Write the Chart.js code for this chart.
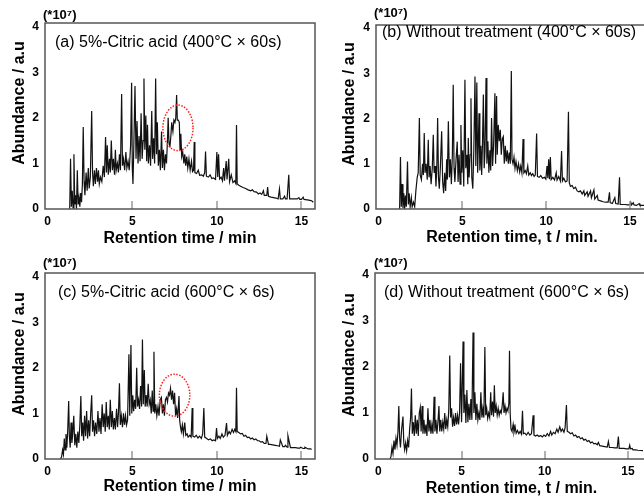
<!DOCTYPE html>
<html><head><meta charset="utf-8">
<script src="https://cdn.jsdelivr.net/npm/chart.js@4.4.0/dist/chart.umd.min.js"></script>
<style>
html,body{margin:0;padding:0;background:#fff;overflow:hidden;width:644px;height:504px;position:relative;}
.p{position:absolute;}
canvas{display:block;}
</style></head><body>
<div class="p" style="left:0;top:0"><canvas id="ca" width="322" height="250"></canvas></div>
<div class="p" style="left:322px;top:0"><canvas id="cb" width="330" height="250"></canvas></div>
<div class="p" style="left:0;top:250px"><canvas id="cc" width="322" height="254"></canvas></div>
<div class="p" style="left:322px;top:250px"><canvas id="cd" width="330" height="254"></canvas></div>
<script>
// ---- tick labels ----
const xTicks = [0, 5, 10, 15];
const yTicks = [0, 1, 2, 3, 4];

// ---- (a) 5%-Citric acid 400C x 60s ----
const tA = [1.30,1.35,1.40,1.45,1.50,1.55,1.60,1.65,1.70,1.75,1.80,1.85,1.90,1.95,2.00,2.05,2.10,2.15,2.20,2.27,2.33,2.40,2.45,2.52,2.60,2.65,2.70,2.76,2.82,2.88,2.95,3.00,3.05,3.12,3.20,3.28,3.35,3.42,3.47,3.52,3.58,3.65,3.70,3.76,3.82,3.88,3.95,4.00,4.05,4.12,4.18,4.24,4.30,4.37,4.42,4.48,4.55,4.62,4.68,4.75,4.82,4.90,4.96,5.00,5.04,5.08,5.16,5.22,5.28,5.34,5.40,5.46,5.52,5.58,5.64,5.69,5.74,5.80,5.85,5.90,5.95,6.02,6.08,6.15,6.20,6.26,6.32,6.38,6.43,6.48,6.54,6.60,6.66,6.73,6.78,6.84,6.90,6.96,7.02,7.08,7.12,7.17,7.22,7.28,7.33,7.40,7.46,7.52,7.57,7.62,7.66,7.72,7.78,7.82,7.87,7.92,7.98,8.05,8.10,8.16,8.22,8.28,8.35,8.42,8.50,8.56,8.62,8.66,8.70,8.80,8.90,8.98,9.10,9.20,9.28,9.33,9.38,9.50,9.60,9.70,9.80,9.92,10.00,10.05,10.10,10.16,10.25,10.33,10.40,10.45,10.55,10.60,10.70,10.75,10.85,10.95,11.05,11.12,11.16,11.20,11.30,11.40,11.55,11.70,11.85,12.00,12.10,12.20,12.35,12.45,12.55,12.65,12.75,12.80,12.95,13.00,13.05,13.20,13.35,13.50,13.62,13.70,13.75,13.90,14.00,14.05,14.15,14.25,14.30,14.45,14.60,14.75,14.85,14.90,15.00,15.10,15.15,15.35,15.50,15.60,15.70];
const vA = [0.00,1.10,0.05,0.40,0.02,1.20,0.10,0.30,0.00,0.85,0.10,0.25,0.05,0.35,0.15,0.55,1.80,0.60,0.30,0.80,0.40,0.90,0.45,0.70,2.15,0.80,0.50,0.85,0.55,0.90,0.60,0.85,0.55,0.70,0.60,0.95,0.70,1.58,0.80,1.40,0.75,1.10,0.80,1.50,0.85,1.10,0.75,1.30,0.85,1.00,0.80,1.20,0.85,2.52,0.95,1.10,0.85,1.25,0.90,1.05,0.85,1.40,2.77,0.90,0.55,1.20,2.70,1.10,1.93,1.00,1.60,1.05,2.10,1.10,1.50,2.86,1.30,2.05,1.05,1.85,1.00,1.40,0.95,2.15,1.10,1.55,1.00,2.86,1.20,1.90,0.95,1.30,0.85,1.70,0.90,1.30,0.85,1.20,1.00,1.50,2.00,1.45,1.35,1.60,1.90,1.70,1.95,1.90,2.00,2.50,1.95,1.95,1.90,1.30,1.65,1.15,1.25,1.00,1.20,0.95,1.15,0.90,1.10,0.85,1.05,0.82,0.85,1.47,0.80,0.78,0.85,0.74,0.75,0.72,0.80,1.26,0.72,0.70,0.75,0.67,0.68,0.65,1.25,0.70,1.20,0.66,0.70,0.62,0.90,0.62,1.05,0.65,1.10,0.60,0.75,0.58,0.62,0.56,1.84,0.55,0.52,0.50,0.47,0.45,0.42,0.40,0.42,0.38,0.37,0.33,0.35,0.32,0.40,0.30,0.30,0.48,0.28,0.26,0.25,0.24,0.22,0.44,0.22,0.22,0.28,0.22,0.22,0.75,0.22,0.22,0.22,0.22,0.25,0.21,0.21,0.26,0.21,0.20,0.19,0.18,0.15];

// ---- (b) Without treatment 400C x 60s ----
const tB = [1.25,1.30,1.35,1.40,1.45,1.50,1.55,1.60,1.65,1.72,1.77,1.82,1.88,1.95,2.00,2.08,2.15,2.22,2.30,2.36,2.43,2.48,2.55,2.62,2.67,2.72,2.77,2.83,2.90,2.96,3.01,3.07,3.13,3.20,3.26,3.31,3.37,3.42,3.47,3.52,3.57,3.62,3.68,3.76,3.82,3.88,3.94,4.00,4.06,4.10,4.16,4.22,4.28,4.34,4.40,4.45,4.50,4.55,4.62,4.69,4.74,4.80,4.86,4.91,4.96,5.02,5.08,5.15,5.20,5.27,5.32,5.35,5.40,5.46,5.51,5.56,5.62,5.68,5.75,5.80,5.86,5.91,5.99,6.04,6.10,6.15,6.20,6.25,6.30,6.35,6.41,6.46,6.52,6.58,6.64,6.69,6.74,6.80,6.86,6.94,6.98,7.04,7.08,7.14,7.20,7.26,7.32,7.38,7.44,7.50,7.56,7.62,7.68,7.74,7.80,7.86,7.92,7.96,8.02,8.08,8.14,8.20,8.28,8.35,8.42,8.48,8.55,8.62,8.67,8.75,8.82,8.90,8.96,9.05,9.12,9.20,9.28,9.35,9.43,9.48,9.58,9.68,9.78,9.90,9.98,10.05,10.10,10.15,10.20,10.25,10.30,10.40,10.50,10.60,10.65,10.75,10.85,10.92,10.97,11.05,11.15,11.25,11.33,11.38,11.45,11.55,11.65,11.75,11.85,11.95,12.05,12.15,12.25,12.30,12.45,12.50,12.65,12.70,12.85,12.90,13.05,13.10,13.25,13.40,13.55,13.70,13.78,13.82,13.95,14.10,14.15,14.30,14.38,14.42,14.55,14.70,14.85,15.00,15.05,15.10,15.20,15.25,15.40,15.55,15.60,15.90];
const vB = [0.00,1.15,0.05,0.55,0.02,0.35,0.00,0.30,0.05,1.05,0.10,0.35,0.05,0.25,0.05,0.15,0.05,0.40,0.70,0.80,2.01,0.75,0.65,1.00,0.75,1.68,0.80,1.00,0.65,1.53,0.70,0.95,0.55,0.90,1.64,0.80,0.95,0.50,0.90,2.01,0.70,0.45,0.90,1.72,0.60,0.35,0.80,0.40,1.10,0.65,1.94,0.70,1.10,0.55,1.20,2.75,0.90,0.60,1.10,1.49,0.60,1.20,0.55,1.86,0.80,1.30,0.50,2.86,0.90,1.20,0.55,1.57,0.70,1.20,2.45,0.70,0.45,1.30,2.93,0.95,2.80,0.80,2.12,0.85,1.40,0.75,1.50,2.53,0.90,1.30,2.90,1.00,1.50,0.80,1.30,0.85,2.01,0.95,1.40,2.56,1.00,2.50,1.20,1.86,1.50,1.75,1.20,1.55,1.60,1.00,1.40,1.05,1.30,1.00,1.25,1.00,3.05,1.10,1.00,1.15,0.90,1.05,0.85,1.00,0.82,0.95,0.80,1.55,0.80,0.85,0.78,0.95,0.75,0.80,0.74,0.78,0.72,0.75,1.67,0.72,0.70,0.74,0.68,0.70,0.66,0.95,0.68,1.10,0.66,1.15,0.65,0.70,0.64,0.80,0.64,0.72,0.62,1.28,0.62,0.68,0.60,0.62,2.15,0.58,0.50,0.52,0.45,0.48,0.40,0.38,0.40,0.33,0.40,0.30,0.38,0.28,0.40,0.25,0.42,0.22,0.30,0.20,0.18,0.16,0.15,0.15,0.37,0.14,0.12,0.25,0.12,0.11,0.70,0.10,0.10,0.10,0.09,0.09,0.15,0.09,0.14,0.09,0.08,0.12,0.08,0.08];

// ---- (c) 5%-Citric acid 600C x 6s ----
const tC = [0.75,0.82,0.88,0.93,0.98,1.03,1.08,1.13,1.18,1.24,1.28,1.33,1.38,1.43,1.48,1.54,1.60,1.66,1.72,1.78,1.84,1.90,1.96,2.01,2.07,2.12,2.18,2.24,2.30,2.36,2.42,2.48,2.54,2.60,2.65,2.71,2.77,2.83,2.90,2.97,3.03,3.09,3.15,3.22,3.28,3.34,3.40,3.46,3.52,3.58,3.64,3.70,3.76,3.82,3.88,3.94,4.00,4.07,4.13,4.18,4.24,4.29,4.35,4.42,4.48,4.54,4.60,4.66,4.72,4.80,4.85,4.92,4.97,5.03,5.08,5.14,5.20,5.26,5.31,5.37,5.43,5.49,5.55,5.60,5.65,5.71,5.76,5.82,5.88,5.94,6.00,6.06,6.12,6.18,6.23,6.28,6.33,6.39,6.45,6.52,6.58,6.65,6.72,6.78,6.84,6.90,6.96,7.02,7.08,7.14,7.20,7.26,7.32,7.38,7.44,7.50,7.56,7.62,7.68,7.76,7.80,7.85,7.90,7.96,8.02,8.10,8.16,8.24,8.30,8.40,8.48,8.54,8.58,8.68,8.78,8.88,8.98,9.08,9.16,9.23,9.28,9.40,9.50,9.62,9.72,9.82,9.92,9.98,10.03,10.12,10.20,10.30,10.38,10.48,10.57,10.62,10.72,10.80,10.90,10.98,11.06,11.12,11.16,11.20,11.30,11.40,11.50,11.60,11.70,11.80,11.90,12.00,12.10,12.20,12.30,12.40,12.50,12.60,12.70,12.80,12.90,12.95,13.05,13.15,13.30,13.45,13.60,13.70,13.75,13.90,14.00,14.05,14.15,14.20,14.35,14.50,14.65,14.80,14.90,14.95,15.10,15.15,15.20,15.40,15.55,15.60];
const vC = [0.00,0.05,0.20,0.10,0.45,0.20,0.55,0.25,0.60,1.27,0.50,0.25,0.80,0.35,0.55,0.95,0.30,0.55,0.25,0.60,0.35,0.75,1.38,0.50,0.80,0.40,0.95,0.50,1.05,0.45,0.85,0.50,1.00,1.40,0.60,0.85,0.50,0.80,0.55,1.05,0.60,0.90,0.55,1.20,0.70,1.00,0.60,1.25,0.70,0.95,0.65,1.30,0.70,1.05,0.65,0.90,0.65,1.10,0.70,1.00,1.66,0.75,0.95,0.70,1.00,0.75,0.95,0.75,0.85,2.30,0.95,2.50,1.00,1.40,1.05,1.30,1.10,2.00,1.15,1.30,1.10,1.60,1.15,2.62,1.20,1.95,1.15,1.40,1.15,1.65,1.20,1.30,1.00,1.50,1.05,2.35,1.00,1.20,0.95,1.15,0.95,1.30,1.35,1.00,1.20,0.95,1.30,1.35,1.25,1.45,1.40,1.55,1.30,1.50,1.20,1.45,0.95,1.10,0.90,1.38,0.85,0.70,0.60,0.75,0.55,0.80,0.52,0.55,0.48,0.52,0.48,1.12,0.50,0.48,0.52,0.46,0.50,0.45,0.55,1.12,0.48,0.45,0.42,0.44,0.40,0.42,0.40,0.68,0.45,0.50,0.45,0.55,0.48,0.52,0.79,0.52,0.60,0.55,0.65,0.58,0.65,0.60,1.56,0.60,0.58,0.55,0.56,0.50,0.52,0.47,0.48,0.44,0.46,0.42,0.44,0.40,0.40,0.37,0.38,0.34,0.34,0.50,0.32,0.32,0.31,0.30,0.29,0.28,0.42,0.27,0.27,0.30,0.26,0.51,0.25,0.25,0.25,0.24,0.24,0.26,0.23,0.23,0.26,0.22,0.22,0.21,0.20];

// ---- (d) Without treatment 600C x 6s ----
const tD = [0.70,0.76,0.82,0.88,0.94,1.00,1.06,1.12,1.18,1.23,1.28,1.33,1.40,1.48,1.53,1.58,1.64,1.70,1.76,1.82,1.88,1.94,1.99,2.04,2.10,2.16,2.22,2.28,2.34,2.40,2.46,2.52,2.57,2.63,2.68,2.74,2.80,2.86,2.92,2.98,3.04,3.10,3.16,3.22,3.28,3.35,3.40,3.46,3.52,3.58,3.64,3.69,3.75,3.81,3.87,3.93,3.99,4.05,4.11,4.17,4.23,4.29,4.34,4.40,4.46,4.52,4.58,4.64,4.70,4.76,4.82,4.88,4.94,5.00,5.04,5.09,5.14,5.20,5.26,5.32,5.38,5.44,5.50,5.56,5.62,5.69,5.74,5.80,5.86,5.92,5.98,6.04,6.10,6.16,6.22,6.28,6.34,6.40,6.45,6.51,6.57,6.63,6.69,6.75,6.80,6.86,6.92,6.97,7.02,7.08,7.14,7.20,7.26,7.32,7.38,7.44,7.50,7.55,7.61,7.67,7.73,7.78,7.84,7.88,7.92,7.97,8.03,8.10,8.15,8.22,8.28,8.36,8.44,8.52,8.60,8.66,8.71,8.80,8.90,9.00,9.10,9.20,9.30,9.35,9.45,9.55,9.65,9.75,9.85,9.95,10.05,10.15,10.25,10.35,10.42,10.52,10.62,10.72,10.80,10.90,10.98,11.06,11.15,11.22,11.30,11.35,11.45,11.55,11.65,11.75,11.85,11.95,12.05,12.15,12.25,12.35,12.45,12.55,12.65,12.75,12.85,12.95,13.05,13.15,13.22,13.30,13.45,13.60,13.75,13.82,13.88,14.05,14.20,14.35,14.42,14.47,14.60,14.75,14.90,15.05,15.10,15.15,15.25,15.30,15.45,15.60,15.90];
const vD = [0.00,0.05,0.25,0.12,0.40,0.20,0.45,0.30,0.60,1.15,0.45,0.25,0.65,0.92,0.35,0.20,0.35,0.18,0.40,0.25,0.65,0.90,1.53,0.55,0.80,0.50,0.95,0.55,0.85,0.50,1.00,1.12,0.60,1.15,0.55,0.85,0.55,0.75,0.50,1.10,0.60,0.85,0.55,0.75,0.55,1.35,0.60,0.85,0.55,0.80,1.15,0.60,0.85,0.60,0.80,0.65,1.00,0.65,0.85,0.70,1.05,2.25,0.90,1.10,0.70,0.90,0.72,1.00,0.75,0.95,0.75,1.00,2.08,0.80,1.50,2.55,1.00,1.40,0.78,1.50,0.80,1.20,0.85,1.30,0.85,2.75,1.00,1.45,0.85,1.20,0.85,1.00,0.85,1.45,0.90,1.10,0.90,2.43,0.95,1.10,0.88,1.00,0.90,1.45,0.95,1.25,0.92,1.60,1.00,1.15,0.95,1.10,0.95,1.05,1.00,1.15,1.45,1.00,1.15,1.00,1.10,1.05,1.20,2.35,1.00,0.65,0.60,0.75,0.58,0.70,0.56,0.62,0.55,0.60,0.54,1.05,0.55,0.56,0.52,0.58,0.52,0.55,0.95,0.52,0.50,0.52,0.49,0.51,0.48,0.52,0.49,0.55,0.50,0.60,0.52,0.58,0.55,0.65,0.58,0.70,0.60,0.65,0.58,0.68,1.17,0.60,0.58,0.55,0.57,0.50,0.52,0.47,0.49,0.44,0.46,0.41,0.43,0.38,0.40,0.35,0.37,0.33,0.34,0.31,0.36,0.29,0.28,0.27,0.26,0.38,0.25,0.25,0.24,0.24,0.49,0.23,0.23,0.23,0.22,0.22,0.30,0.22,0.23,0.20,0.20,0.19,0.18];

const F = "'Liberation Sans', Arial, Helvetica, sans-serif";

const deco = {
  id: 'deco',
  afterDatasetsDraw(chart, args, o) {
    const ctx = chart.ctx, ca = chart.chartArea;
    const xs = chart.scales.x, ys = chart.scales.y;
    ctx.save();
    // inward tick marks on the x axis
    ctx.strokeStyle = '#999';
    ctx.lineWidth = 1.5;
    xTicks.forEach(v => {
      if (v === 0) return;
      const px = Math.round(xs.getPixelForValue(v));
      ctx.beginPath(); ctx.moveTo(px, ca.bottom); ctx.lineTo(px, ca.bottom - 8); ctx.stroke();
    });
    // frame
    ctx.strokeStyle = '#555';
    ctx.lineWidth = 1.5;
    ctx.strokeRect(ca.left, ca.top, ca.right - ca.left, ca.bottom - ca.top);
    // dotted ellipse
    if (o.ell) {
      const e = o.ell;
      const cx = xs.getPixelForValue(e[0]), cy = ys.getPixelForValue(e[1]);
      const rx = Math.abs(xs.getPixelForValue(e[0] + e[2]) - cx);
      const ry = Math.abs(ys.getPixelForValue(e[1] + e[3]) - cy);
      ctx.strokeStyle = '#ff2020';
      ctx.lineWidth = 1.5;
      ctx.setLineDash([1.5, 1.5]);
      ctx.beginPath(); ctx.ellipse(cx, cy, rx, ry, 0, 0, Math.PI * 2); ctx.stroke();
      ctx.setLineDash([]);
    }
    // texts
    ctx.fillStyle = '#000';
    ctx.textBaseline = 'middle';
    ctx.textAlign = 'left';
    ctx.font = '16px ' + F;
    ctx.fillText(o.label, o.lx, o.ly);
    ctx.font = 'bold 13px ' + F;
    ctx.fillText('(*10\u2077)', o.ex, o.ey);
    ctx.save();
    ctx.translate(o.ytx, o.yty);
    ctx.rotate(-Math.PI / 2);
    ctx.textAlign = 'center';
    ctx.font = 'bold 16px ' + F;
    ctx.fillText('Abundance / a.u', 0, 0);
    ctx.restore();
    ctx.restore();
  }
};

function panel(id, t, v, g) {
  return new Chart(document.getElementById(id), {
    type: 'line',
    data: { datasets: [{ data: t.map((x, i) => ({ x: x, y: v[i] })), borderColor: '#111', borderWidth: 1.2, pointRadius: 0, tension: 0, fill: false }] },
    options: {
      responsive: false, animation: false, devicePixelRatio: 1,
      layout: { padding: { top: g.top, right: g.right, left: 0, bottom: 0 } },
      plugins: { legend: { display: false }, tooltip: { enabled: false }, deco: g },
      scales: {
        x: {
          type: 'linear', min: g.xmin, max: g.xmax,
          afterBuildTicks: s => { s.ticks = xTicks.map(val => ({ value: val })); },
          afterFit: s => { s.height = g.xh; },
          grid: { display: false, drawTicks: false }, border: { display: false },
          ticks: { padding: 5, color: '#000', autoSkip: false, maxRotation: 0, font: { family: F, size: 12, weight: 'bold' } },
          title: { display: true, text: g.xt, color: '#000', font: { family: F, size: 16, weight: 'bold' }, padding: { top: 0, bottom: g.xtp } }
        },
        y: {
          type: 'linear', min: 0, max: g.ymax,
          afterBuildTicks: s => { s.ticks = yTicks.map(val => ({ value: val })); },
          afterFit: s => { s.width = g.left; },
          grid: { display: false, drawTicks: false }, border: { display: false },
          ticks: { padding: 6, color: '#000', font: { family: F, size: 12, weight: 'bold' } }
        }
      }
    },
    plugins: [deco]
  });
}

panel('ca', tA, vA, { top: 23, right: 7, left: 45, xh: 41, xtp: 1.4, xmin: -0.16, xmax: 15.8, ymax: 4.08,
  xt: 'Retention time / min', label: '(a) 5%-Citric acid (400\u00B0C \u00D7 60s)', lx: 55, ly: 43, ex: 43, ey: 15, ytx: 20, yty: 103,
  ell: [7.7, 1.78, 0.89, 0.5] });
panel('cb', tB, vB, { top: 25, right: 4, left: 54, xh: 41, xtp: 2.4, xmin: -0.16, xmax: 16.08, ymax: 4.07,
  xt: 'Retention time, t / min.', label: '(b) Without treatment (400\u00B0C \u00D7 60s)', lx: 60, ly: 33, ex: 52, ey: 13, ytx: 28, yty: 104 });
panel('cc', tC, vC, { top: 23, right: 7, left: 45, xh: 45, xtp: 7.4, xmin: -0.16, xmax: 15.8, ymax: 4.08,
  xt: 'Retention time / min', label: '(c) 5%-Citric acid (600\u00B0C \u00D7 6s)', lx: 58, ly: 43, ex: 43, ey: 13, ytx: 20, yty: 104,
  ell: [7.5, 1.4, 0.9, 0.46] });
panel('cd', tD, vD, { top: 23, right: 4, left: 53, xh: 45, xtp: 5.4, xmin: -0.2, xmax: 16.2, ymax: 4.04,
  xt: 'Retention time, t / min.', label: '(d) Without treatment (600\u00B0C \u00D7 6s)', lx: 62, ly: 43, ex: 52, ey: 13, ytx: 28, yty: 105 });
</script>
</body></html>
